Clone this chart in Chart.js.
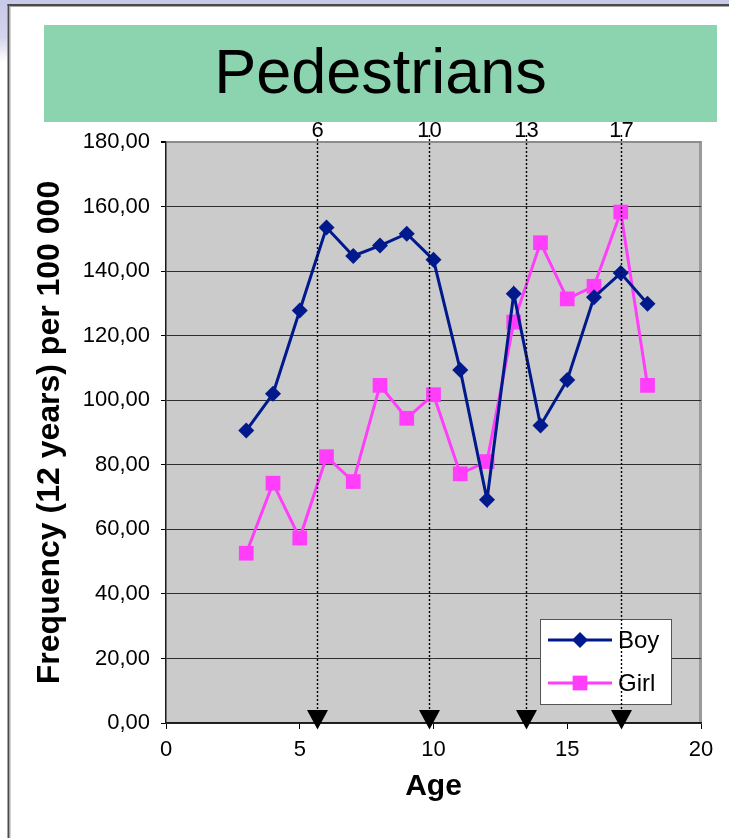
<!DOCTYPE html>
<html>
<head>
<meta charset="utf-8">
<title>Pedestrians</title>
<script src="https://cdn.jsdelivr.net/npm/chart.js@4.4.1/dist/chart.umd.min.js"></script>
<style>
  html, body { margin: 0; padding: 0; background: #fff; }
  #wrap { position: relative; width: 729px; height: 838px; overflow: hidden; }
  canvas { display: block; }
</style>
</head>
<body>
<div id="wrap"><canvas id="chart" width="729" height="838"></canvas></div>
<script>
// Age in years
const ages = [3, 4, 5, 6, 7, 8, 9, 10, 11, 12, 13, 14, 15, 16, 17, 18];
// Pedestrian casualty frequency per 100 000 (12 years)
const boyRates = [90.6, 102.0, 127.8, 153.5, 144.7, 147.9, 151.6, 143.5, 109.4, 69.2, 133.0, 92.2, 106.3, 131.9, 139.4, 129.9];
const girlRates = [52.6, 74.3, 57.3, 82.5, 74.8, 104.6, 94.4, 101.7, 77.2, 81.0, 124.2, 148.8, 131.4, 135.3, 158.3, 104.6];
// Reference ages marked with dotted drop lines
const markerAges = [5.65, 9.85, 13.45, 17.0];
const markerLabels = ['6', '10', '13', '17'];
const seriesNames = ['Boy', 'Girl'];

const FONT = "'Liberation Sans', Arial, Helvetica, sans-serif";
const BOY_COLOR = '#00198c';
const GIRL_COLOR = '#ff3dfb';
Chart.defaults.font.family = FONT;
Chart.defaults.color = '#000';

function toPoints(xs, ys) { return xs.map((x, i) => ({ x: x, y: ys[i] })); }

// Slide frame, title banner and plot background
const backdrop = {
  id: 'backdrop',
  beforeDraw(chart) {
    const { ctx, chartArea: a, width, height } = chart;
    ctx.save();
    ctx.fillStyle = '#ffffff';
    ctx.fillRect(0, 0, width, height);
    // lavender slide edge
    ctx.fillStyle = '#c9c9e8';
    ctx.fillRect(0, 0, width, 4);
    const g = ctx.createLinearGradient(0, 0, 0, 62);
    g.addColorStop(0, '#c9c9e8');
    g.addColorStop(0.6, '#d4d4ee');
    g.addColorStop(1, '#ffffff');
    ctx.fillStyle = g;
    ctx.fillRect(0, 0, 7.5, 62);
    // frame lines
    ctx.fillStyle = '#4a4a4a';
    ctx.fillRect(7.5, 4, width, 2);
    ctx.fillRect(7.5, 4, 2, height);
    ctx.fillStyle = '#a8a8a8';
    ctx.fillRect(9.5, 6, width, 1);
    ctx.fillRect(9.5, 6, 1, height);
    // title banner
    ctx.fillStyle = '#8cd3af';
    ctx.fillRect(44, 25, 673, 97);
    ctx.fillStyle = '#000';
    ctx.font = '63px ' + FONT;
    ctx.textAlign = 'center';
    ctx.textBaseline = 'alphabetic';
    ctx.fillText('Pedestrians', 380.5, 93);
    // plot area
    ctx.fillStyle = '#cbcbcb';
    ctx.fillRect(a.left, a.top, a.right - a.left, a.bottom - a.top);
    ctx.fillStyle = '#9a9a9a';
    ctx.fillRect(a.right - 2, a.top - 1, 3, a.bottom - a.top + 1);
    ctx.restore();
  }
};

// Legend box plus dotted drop lines with arrows and age labels
const overlays = {
  id: 'overlays',
  afterDraw(chart) {
    const { ctx, chartArea: a } = chart;
    const xs = chart.scales.x;
    ctx.save();

    // legend
    const lx = 540.5, ly = 619.5, lw = 131, lh = 85;
    ctx.fillStyle = '#fff';
    ctx.fillRect(lx, ly, lw, lh);
    ctx.strokeStyle = '#555';
    ctx.lineWidth = 1;
    ctx.strokeRect(lx, ly, lw, lh);
    const rows = [640, 683];
    chart.data.datasets.forEach((ds, i) => {
      const y = rows[i];
      ctx.strokeStyle = ds.borderColor;
      ctx.lineWidth = ds.borderWidth;
      ctx.beginPath();
      ctx.moveTo(548, y);
      ctx.lineTo(612, y);
      ctx.stroke();
      ctx.fillStyle = ds.backgroundColor;
      const cx = 580;
      if (ds.pointStyle === 'rectRot') {
        const r = ds.pointRadius;
        ctx.beginPath();
        ctx.moveTo(cx, y - r); ctx.lineTo(cx + r, y); ctx.lineTo(cx, y + r); ctx.lineTo(cx - r, y);
        ctx.closePath(); ctx.fill();
      } else {
        const s = ds.pointRadius * Math.SQRT1_2;
        ctx.fillRect(cx - s, y - s, 2 * s, 2 * s);
      }
      ctx.fillStyle = '#000';
      ctx.font = '24px ' + FONT;
      ctx.textAlign = 'left';
      ctx.textBaseline = 'middle';
      ctx.fillText(ds.label, 618, y + 1.5);
    });

    // dotted drop lines
    ctx.strokeStyle = '#000';
    ctx.lineWidth = 1.4;
    ctx.setLineDash([2, 2]);
    markerAges.forEach(age => {
      const px = Math.round(xs.getPixelForValue(age)) + 0.5;
      ctx.beginPath();
      ctx.moveTo(px, a.top - 7);
      ctx.lineTo(px, a.bottom - 12);
      ctx.stroke();
    });
    ctx.setLineDash([]);

    // arrows and labels
    ctx.fillStyle = '#000';
    ctx.font = '22px ' + FONT;
    ctx.textAlign = 'center';
    ctx.textBaseline = 'alphabetic';
    markerAges.forEach((age, i) => {
      const px = Math.round(xs.getPixelForValue(age)) + 0.5;
      ctx.beginPath();
      ctx.moveTo(px - 10.5, a.bottom - 13);
      ctx.lineTo(px + 10.5, a.bottom - 13);
      ctx.lineTo(px, a.bottom + 6.5);
      ctx.closePath();
      ctx.fill();
      ctx.fillText(markerLabels[i], px, a.top - 5.3);
    });
    ctx.restore();
  }
};

new Chart(document.getElementById('chart'), {
  type: 'line',
  data: {
    datasets: [
      {
        label: seriesNames[0],
        data: toPoints(ages, boyRates),
        borderColor: BOY_COLOR,
        backgroundColor: BOY_COLOR,
        borderWidth: 3,
        pointStyle: 'rectRot',
        pointRadius: 8,
        pointHoverRadius: 8,
        pointBorderWidth: 0,
        tension: 0
      },
      {
        label: seriesNames[1],
        data: toPoints(ages, girlRates),
        borderColor: GIRL_COLOR,
        backgroundColor: GIRL_COLOR,
        borderWidth: 3,
        pointStyle: 'rect',
        pointRadius: 10.4,
        pointHoverRadius: 10.4,
        pointBorderWidth: 0,
        tension: 0
      }
    ]
  },
  options: {
    responsive: false,
    animation: false,
    layout: { padding: { left: 0, top: 142, right: 28, bottom: 0 } },
    plugins: {
      legend: { display: false },
      tooltip: { enabled: false }
    },
    scales: {
      x: {
        type: 'linear',
        min: 0,
        max: 20,
        afterFit(scale) { scale.height = 115; },
        ticks: { stepSize: 5, color: '#000', font: { size: 22 }, padding: 8, maxRotation: 0 },
        grid: { drawOnChartArea: false, drawTicks: true, tickLength: 6, tickColor: '#000', color: '#000' },
        border: { color: '#1a1a1a', width: 1.5 },
        title: {
          display: true,
          text: 'Age',
          color: '#000',
          font: { size: 30, weight: 'bold', lineHeight: 1 },
          padding: { top: 0, bottom: 36 }
        }
      },
      y: {
        type: 'linear',
        min: 0,
        max: 180,
        afterFit(scale) { scale.width = 166; },
        ticks: {
          stepSize: 20,
          color: '#000',
          font: { size: 22 },
          padding: 11,
          callback: v => v.toFixed(2).replace('.', ',')
        },
        grid: {
          color: c => (c.tick && c.tick.value === 180) ? '#8c8c8c' : '#2e2e2e',
          lineWidth: c => (c.tick && c.tick.value === 180) ? 2 : 1,
          tickColor: '#000',
          tickLength: 5,
          drawTicks: true
        },
        border: { color: '#1a1a1a', width: 1.5 },
        title: {
          display: true,
          text: 'Frequency (12 years) per 100 000',
          color: '#000',
          font: { size: 32, weight: 'bold', lineHeight: 1 },
          padding: { top: 34, bottom: 0 }
        }
      }
    }
  },
  plugins: [backdrop, overlays]
});
</script>
</body>
</html>
